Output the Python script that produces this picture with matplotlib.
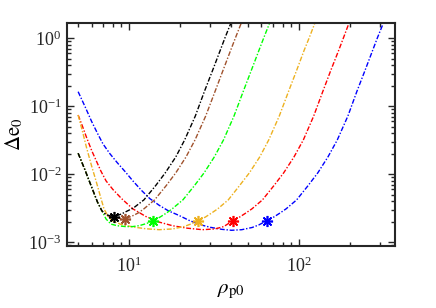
import matplotlib
matplotlib.use("Agg")
import matplotlib.pyplot as plt

plt.rcParams['font.family'] = ['Liberation Serif', 'DejaVu Serif']
plt.rcParams['mathtext.fontset'] = 'stix'

# ---- data ----
black_x = [5.0, 5.5, 6.0, 6.5, 6.9, 7.3, 7.8, 8.16, 8.98, 9.79, 10.6, 12.2, 14.3, 16.3, 18.8, 21.2,
           24.5, 27.7, 31.0, 34.3, 36.7, 39.7, 42.4]
black_y = [0.0204, 0.0114, 0.0065, 0.0039, 0.0029, 0.00255, 0.00243, 0.00238, 0.0026, 0.0029, 0.0032,
           0.0042, 0.0068, 0.0105, 0.018, 0.032, 0.072, 0.165, 0.34, 0.66, 1.03, 1.68, 2.6]

brown_x = [5.0, 5.5, 6.0, 6.5, 6.9, 7.3, 8.0, 8.7, 9.4, 10.3, 11.3, 12.2, 14.1, 16.5, 18.8, 21.6,
           24.4, 28.2, 32.0, 35.7, 39.5, 42.3, 45.7, 48.9]
brown_y = [0.0204, 0.0114, 0.0065, 0.0039, 0.0029, 0.00252, 0.00235, 0.00226, 0.00222, 0.0024, 0.0027,
           0.0031, 0.0042, 0.0068, 0.0105, 0.018, 0.032, 0.072, 0.165, 0.34, 0.66, 1.03, 1.68, 2.6]

green_x = [5.0, 5.5, 6.0, 6.5, 6.9, 7.3, 7.8, 8.5, 9.5, 10.5, 11.5, 12.6, 13.8, 15.2, 16.6, 17.9,
           20.7, 24.2, 27.6, 31.7, 35.9, 41.4, 46.9, 52.4, 58.0, 62.1, 67.1, 71.8]
green_y = [0.0204, 0.0114, 0.0065, 0.0039, 0.0029, 0.0022, 0.00185, 0.00175, 0.0017, 0.0017, 0.00176,
           0.00188, 0.00206, 0.00235, 0.0027, 0.0031, 0.0042, 0.0068, 0.0105, 0.018, 0.032, 0.072,
           0.165, 0.34, 0.66, 1.03, 1.68, 2.6]

orange_x = [5.0, 5.3, 5.6, 6.0, 6.4, 6.8, 7.1, 7.5, 8.0, 9.0, 10.5, 12.5, 15.0, 18.0, 21.0, 23.0,
            25.5, 28.1, 30.6, 33.2, 38.3, 44.6, 51.0, 58.7, 66.3, 76.5, 86.7, 96.9, 107, 115, 124, 133]
orange_y = [0.0744, 0.043, 0.0248, 0.0133, 0.0077, 0.0045, 0.0031, 0.0024, 0.00205, 0.00182, 0.00168,
            0.00158, 0.00153, 0.00157, 0.0017, 0.00185, 0.00208, 0.00235, 0.0027, 0.0031, 0.0042,
            0.0068, 0.0105, 0.018, 0.032, 0.072, 0.165, 0.34, 0.66, 1.03, 1.68, 2.6]

red_x = [5.0, 5.3, 5.6, 6.0, 6.4, 6.8, 7.3, 8.0, 9.0, 10.5, 12.5, 15.0, 18.0, 22.0, 27.0, 32.0, 36.0,
         40.6, 44.7, 48.7, 52.8, 60.9, 71.1, 81.2, 93.4, 106, 122, 138, 154, 171, 183, 197, 211]
red_y = [0.0744, 0.051, 0.035, 0.0225, 0.0157, 0.0112, 0.0080, 0.0060, 0.0044, 0.0031, 0.0024,
         0.00198, 0.00175, 0.00161, 0.00153, 0.00157, 0.0017, 0.00206, 0.00235, 0.0027, 0.0031,
         0.0042, 0.0068, 0.0105, 0.018, 0.032, 0.072, 0.165, 0.34, 0.66, 1.03, 1.68, 2.6]

blue_x = [5.0, 5.5, 6.0, 6.5, 7.0, 7.7, 8.5, 9.5, 10.5, 11.8, 13.2, 15.0, 17.0, 19.5, 22.5, 26.0,
          30.0, 35.0, 40.0, 46.0, 53.0, 58.0, 64.5, 71.0, 77.4, 83.9, 96.8, 113, 129, 148, 168, 194,
          219, 245, 271, 290, 314, 335]
blue_y = [0.164, 0.098, 0.060, 0.040, 0.028, 0.020, 0.0148, 0.0108, 0.0080, 0.0058, 0.0044, 0.0035,
          0.0029, 0.0025, 0.0021, 0.00182, 0.00166, 0.00155, 0.0015, 0.00153, 0.00165, 0.0018,
          0.00207, 0.00235, 0.0027, 0.0031, 0.0042, 0.0068, 0.0105, 0.018, 0.032, 0.072, 0.165,
          0.34, 0.66, 1.03, 1.68, 2.6]

star_x = [8.16, 9.4, 13.8, 25.5, 40.6, 64.5]
star_y = [0.00238, 0.00222, 0.00206, 0.00208, 0.00206, 0.00207]
star_colors = ['#000000', '#A0522D', '#00FF00', '#EDB120', '#FF0000', '#0000FF']

series = [
    (blue_x, blue_y, '#0000FF'),
    (red_x, red_y, '#FF0000'),
    (orange_x, orange_y, '#EDB120'),
    (green_x, green_y, '#00FF00'),
    (brown_x, brown_y, '#A0522D'),
    (black_x, black_y, '#000000'),
]

fig = plt.figure(figsize=(4.36, 3.08), dpi=100)
ax = fig.add_axes([0.1537, 0.2023, 0.7516, 0.7230])

for xs, ys, c in series:
    ax.plot(xs, ys, linestyle=(0, (3.5, 1.3, 1.0, 1.3)), color=c, linewidth=1.0)

for xs, ys, c in zip(star_x, star_y, star_colors):
    ax.plot([xs], [ys], linestyle='none', marker=(8, 2, 0), markersize=8,
            markeredgewidth=1.2, color=c)

ax.set_xscale('log')
ax.set_yscale('log')
ax.set_xlim(4.3, 366)
ax.set_ylim(8.9e-4, 1.68)

edge = '#262626'
for s in ax.spines.values():
    s.set_linewidth(1.5)
    s.set_color(edge)
ax.tick_params(which='both', direction='in', top=True, right=True, colors=edge,
               labelcolor='#262626', labelsize=13, width=1.0)
ax.tick_params(which='major', length=5)
ax.tick_params(which='minor', length=3)
ax.tick_params(axis='x', which='major', pad=8)
ax.tick_params(axis='y', which='major', pad=4)

ax.set_xlabel(r'$\rho_{\mathrm{p0}}$', fontsize=15, labelpad=4)
ax.set_ylabel(r'$\Delta\mathrm{e}_{0}$', fontsize=15, labelpad=2)

fig.savefig('out.png', dpi=100)
